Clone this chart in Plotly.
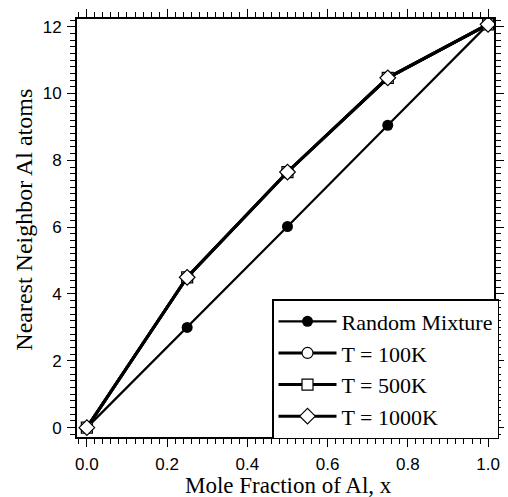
import plotly.graph_objects as go

x_frac = [0.0, 0.25, 0.5, 0.75, 1.0]
random_mix = [0.0, 3.0, 6.02, 9.05, 12.07]
t100 = [0.0, 4.5, 7.65, 10.47, 12.07]
t500 = [0.0, 4.5, 7.65, 10.47, 12.07]
t1000 = [0.0, 4.5, 7.65, 10.47, 12.07]

fig = go.Figure()
fig.add_trace(go.Scatter(x=x_frac, y=random_mix, mode="lines+markers", name="Random Mixture",
                         line=dict(color="black", width=2.2),
                         marker=dict(symbol="circle", size=11, color="black")))
fig.add_trace(go.Scatter(x=x_frac, y=t100, mode="lines+markers", name="T = 100K",
                         line=dict(color="black", width=3),
                         marker=dict(symbol="circle", size=11, color="white", line=dict(color="black", width=1.2))))
fig.add_trace(go.Scatter(x=x_frac, y=t500, mode="lines+markers", name="T = 500K",
                         line=dict(color="black", width=3),
                         marker=dict(symbol="square", size=11, color="white", line=dict(color="black", width=1.2))))
fig.add_trace(go.Scatter(x=x_frac, y=t1000, mode="lines+markers", name="T = 1000K",
                         line=dict(color="black", width=3),
                         marker=dict(symbol="diamond", size=12, color="white", line=dict(color="black", width=1.2))))

axis_common = dict(showgrid=False, zeroline=False, showline=True, linecolor="black", linewidth=1.8,
                   mirror="allticks", ticks="outside", ticklen=8, tickwidth=1.3, tickcolor="black",
                   automargin=False,
                   tickfont=dict(family="Liberation Sans", size=17, color="black"))

fig.update_xaxes(range=[-0.0246, 1.0148], tickvals=[0.0, 0.2, 0.4, 0.6, 0.8, 1.0],
                 ticktext=["0.0", "0.2", "0.4", "0.6", "0.8", "1.0"],
                 minor=dict(dtick=0.02, tick0=0, ticks="outside", ticklen=5, tickcolor="black", tickwidth=1.1),
                 ticklabelstandoff=3,
                 **axis_common)
fig.update_yaxes(range=[-0.28, 12.23], tickvals=[0, 2, 4, 6, 8, 10, 12],
                 minor=dict(dtick=0.2, tick0=0, ticks="outside", ticklen=5, tickcolor="black", tickwidth=1.1),
                 ticklabelstandoff=2,
                 **axis_common)

fig.add_annotation(text="Mole Fraction of Al, x", xref="paper", yref="paper", x=0.506, y=-0.115,
                   xanchor="center", yanchor="middle", showarrow=False,
                   font=dict(family="Liberation Serif", size=23, color="black"))
fig.add_annotation(text="Nearest Neighbor Al atoms", xref="paper", yref="paper", x=-0.128, y=0.519,
                   xanchor="center", yanchor="middle", showarrow=False, textangle=-90,
                   font=dict(family="Liberation Serif", size=24, color="black"))

fig.update_layout(width=508, height=497, margin=dict(l=77, r=9, t=19, b=60),
                  paper_bgcolor="white", plot_bgcolor="white", showlegend=True,
                  legend=dict(x=1.012, y=0.33, xanchor="right", yanchor="top",
                              bgcolor="white", bordercolor="black", borderwidth=1.5,
                              font=dict(family="Liberation Serif", size=22, color="black"),
                              itemwidth=58, tracegroupgap=0))
fig.write_html("out.html")
